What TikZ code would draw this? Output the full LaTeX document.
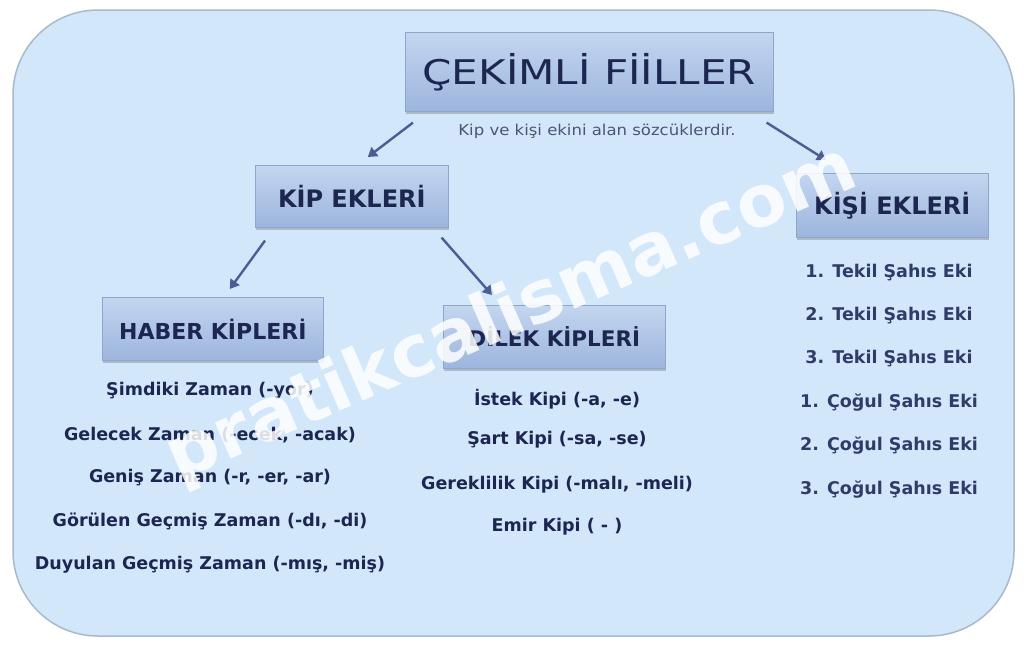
\documentclass[tikz,border=0pt]{standalone}
\usepackage{fontspec}
\setmainfont{DejaVu Sans}
\usetikzlibrary{shadows,calc,arrows.meta}
\definecolor{bgfill}{HTML}{D3E7FB}
\definecolor{bgline}{HTML}{A9B9CC}
\definecolor{boxtop}{HTML}{C3D6F0}
\definecolor{boxbot}{HTML}{9DB5DD}
\definecolor{boxline}{HTML}{8FA6CC}
\definecolor{navy}{HTML}{1C2650}
\definecolor{navylt}{HTML}{2E3C68}
\definecolor{subgrey}{HTML}{4A5673}
\definecolor{arrowc}{HTML}{4A5E94}
\tikzset{
  hbox/.style={draw=boxline, line width=0.6pt, top color=boxtop, bottom color=boxbot,
    drop shadow={shadow xshift=1pt, shadow yshift=-3pt, opacity=0.35, fill=black!60},
    text=navy, inner sep=0pt, anchor=north west},
  hdr/.style={font=\fontsize{24}{26}\bfseries\selectfont, text=navy},
  item/.style={font=\fontsize{17.5}{20}\bfseries\selectfont, text=navy},
  kitem/.style={font=\fontsize{17.5}{20}\bfseries\selectfont, text=navylt},
  arr/.style={draw=arrowc, line width=2.4pt, -{Triangle[length=9pt,width=11pt]}},
}
\begin{document}
\begin{tikzpicture}[x=1pt,y=-1pt]
\useasboundingbox (0,0) rectangle (1024,646);
\fill[white] (0,0) rectangle (1024,646);
\draw[fill=bgfill, draw=bgline, line width=1.5pt, rounded corners=85pt] (13,10) rectangle (1014,636);

% boxes
\node[hbox, minimum width=368pt, minimum height=79pt] (title) at (405,32) {};
\node[font=\fontsize{34}{36}\selectfont, text=navy] (titletxt) at (title.center) {\scalebox{1.24}[1]{ÇEKİMLİ FİİLLER}};
\node[font=\fontsize{15}{17}\selectfont, text=subgrey] (sub) at (597,131) {\scalebox{1.1}[1]{Kip ve kişi ekini alan sözcüklerdir.}};

\node[hbox, minimum width=193pt, minimum height=62pt] (kip) at (255,165) {};
\node[hdr] at (kip.center) {KİP EKLERİ};

\node[hbox, minimum width=221pt, minimum height=63pt] (haber) at (102,297) {};
\node[hdr, font=\fontsize{22}{24}\bfseries\selectfont] at (haber.center) {HABER KİPLERİ};

\node[hbox, minimum width=222pt, minimum height=63pt] (dilek) at (443,305) {};
\node[hdr, font=\fontsize{21.5}{24}\bfseries\selectfont] at (dilek.center) {DİLEK KİPLERİ};

\node[hbox, minimum width=192pt, minimum height=64pt] (kisi) at (796,173) {};
\node[hdr] at (kisi.center) {KİŞİ EKLERİ};

% arrows
\draw[arr] ($(title.south west)+(8,11)$) -- ($(kip.north)+(16,-8)$);
\draw[arr] ($(title.south east)+(-7,11)$) -- ($(kisi.north west)+(30,-13)$);
\draw[arr] ($(kip.south west)+(10,13)$) -- ($(haber.north)+(17,-8)$);
\draw[arr] ($(kip.south east)+(-7,10)$) -- ($(dilek.north west)+(49,-10)$);

% lists
\node[item] (h1) at (210,391) {Şimdiki Zaman (-yor)};
\node[item] (h2) at (210,435) {Gelecek Zaman (-ecek, -acak)};
\node[item] (h3) at (210,478) {Geniş Zaman (-r, -er, -ar)};
\node[item] (h4) at (210,521) {Görülen Geçmiş Zaman (-dı, -di)};
\node[item] (h5) at (210,565) {Duyulan Geçmiş Zaman (-mış, -miş)};

\node[item] (d1) at (557,399) {İstek Kipi (-a, -e)};
\node[item] (d2) at (557,440) {Şart Kipi (-sa, -se)};
\node[item] (d3) at (557,485) {Gereklilik Kipi (-malı, -meli)};
\node[item] (d4) at (557,527) {Emir Kipi ( - )};

\node[kitem] (k1) at (889,273) {1. Tekil Şahıs Eki};
\node[kitem] (k2) at (889,316) {2. Tekil Şahıs Eki};
\node[kitem] (k3) at (889,359) {3. Tekil Şahıs Eki};
\node[kitem] (k4) at (889,403) {1. Çoğul Şahıs Eki};
\node[kitem] (k5) at (889,446) {2. Çoğul Şahıs Eki};
\node[kitem] (k6) at (889,490) {3. Çoğul Şahıs Eki};

% watermark
\node[rotate=23.5, text=white, opacity=0.85, font=\fontsize{72}{80}\bfseries\selectfont] (wm) at (512,315) {pratikcalisma.com};
\end{tikzpicture}
\end{document}
